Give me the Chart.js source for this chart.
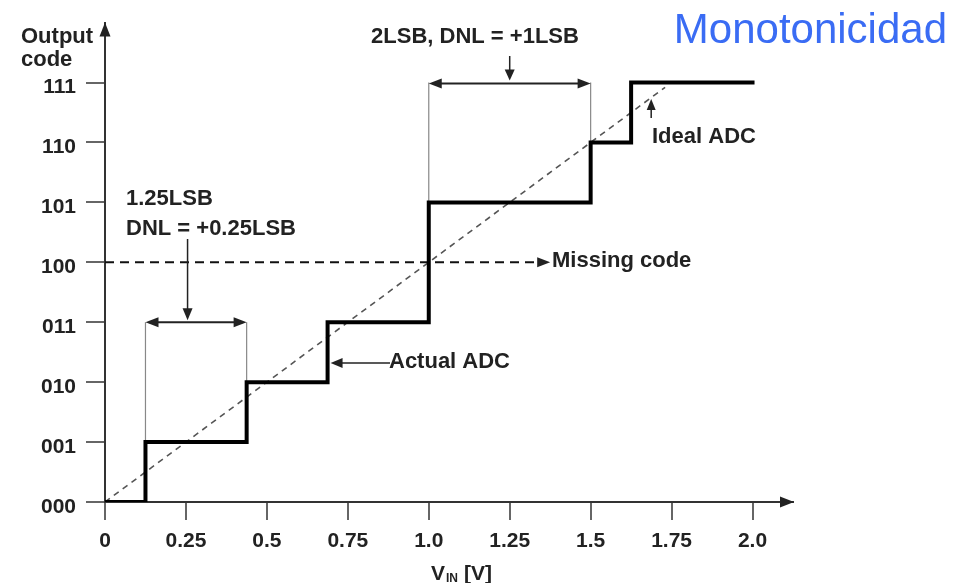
<!DOCTYPE html>
<html>
<head>
<meta charset="utf-8">
<script src="https://cdn.jsdelivr.net/npm/chart.js@4.4.0/dist/chart.umd.min.js"></script>
<style>
  html, body { margin: 0; padding: 0; background: #fff; }
  #wrap { width: 963px; height: 583px; position: relative; }
</style>
</head>
<body>
<div id="wrap"><canvas id="adcChart"></canvas></div>
<script>
// ADC real: tensión de entrada y código de salida
const vinActual = [0, 0.125, 0.4375, 0.6875, 1.0, 1.5, 1.625, 2.0];
const codeActual = [0, 1, 2, 3, 5, 6, 7, 7];
// ADC ideal
const vinIdeal = [0, 1.73];
const codeIdeal = [0, 6.92];
// código perdido (100)
const vinMissing = [0, 1.345];
const codeMissing = [4, 4];
// ticks
const xTickValues = [0, 0.25, 0.5, 0.75, 1.0, 1.25, 1.5, 1.75, 2.0];
const xTickLabels = ['0', '0.25', '0.5', '0.75', '1.0', '1.25', '1.5', '1.75', '2.0'];
const yTickLabels = ['000', '001', '010', '011', '100', '101', '110', '111'];

const FONT = '"Liberation Sans", Arial, sans-serif';
const INK = '#222';

function toPoints(xs, ys) {
  return xs.map((x, i) => ({ x: x, y: ys[i] }));
}

// punta de flecha rellena, ang = 0 apunta a la derecha
function head(ctx, x, y, ang, len, half) {
  ctx.save();
  ctx.translate(x, y);
  ctx.rotate(ang);
  ctx.beginPath();
  ctx.moveTo(0, 0);
  ctx.lineTo(-len, -half);
  ctx.lineTo(-len, half);
  ctx.closePath();
  ctx.fill();
  ctx.restore();
}

function line(ctx, x0, y0, x1, y1) {
  ctx.beginPath();
  ctx.moveTo(x0, y0);
  ctx.lineTo(x1, y1);
  ctx.stroke();
}

const annotations = {
  id: 'annotations',
  beforeDatasetsDraw(chart) {
    const ctx = chart.ctx;
    const px = v => chart.scales.x.getPixelForValue(v);
    const py = v => chart.scales.y.getPixelForValue(v);
    ctx.save();
    // líneas finas de los corchetes
    ctx.strokeStyle = '#888';
    ctx.lineWidth = 1.2;
    line(ctx, px(0.125), py(3), px(0.125), py(1));
    line(ctx, px(0.4375), py(3), px(0.4375), py(2));
    line(ctx, px(1.0), py(7), px(1.0), py(5));
    line(ctx, px(1.5), py(7), px(1.5), py(6));
    ctx.restore();
  },
  afterDraw(chart) {
    const ctx = chart.ctx;
    const px = v => chart.scales.x.getPixelForValue(v);
    const py = v => chart.scales.y.getPixelForValue(v);
    const area = chart.chartArea;
    ctx.save();
    ctx.fillStyle = '#222';
    ctx.strokeStyle = '#222';

    // flechas de los ejes
    head(ctx, area.left, area.top, -Math.PI / 2, 14, 5.5);
    head(ctx, area.right + 1, area.bottom, 0, 14, 5.5);

    // flechas dobles
    ctx.lineWidth = 2;
    let yb = py(3);
    line(ctx, px(0.125) + 4, yb, px(0.4375) - 4, yb);
    head(ctx, px(0.125), yb, Math.PI, 13, 5);
    head(ctx, px(0.4375), yb, 0, 13, 5);
    yb = py(7) + 1;
    line(ctx, px(1.0) + 4, yb, px(1.5) - 4, yb);
    head(ctx, px(1.0), yb, Math.PI, 13, 5);
    head(ctx, px(1.5), yb, 0, 13, 5);

    // flechas verticales hacia los corchetes
    ctx.lineWidth = 1.5;
    let xa = px(0.255);
    line(ctx, xa, 239, xa, py(3) - 8);
    head(ctx, xa, py(3) - 2, Math.PI / 2, 12, 5);
    xa = px(1.25);
    line(ctx, xa, 56, xa, py(7) - 8);
    head(ctx, xa, py(7) - 2, Math.PI / 2, 11, 5);

    // Actual ADC
    const ya = py(2.32);
    line(ctx, px(0.6875) + 10, ya, 390, ya);
    head(ctx, px(0.6875) + 3, ya, Math.PI, 12, 5);

    // Ideal ADC
    const xi = px(1.687);
    line(ctx, xi, 118, xi, 108);
    head(ctx, xi, 99, -Math.PI / 2, 11, 4.5);

    // código perdido
    head(ctx, px(1.375), py(4), 0, 13, 5);

    // textos
    ctx.fillStyle = INK;
    ctx.font = 'bold 22px ' + FONT;
    ctx.textBaseline = 'alphabetic';
    ctx.textAlign = 'left';
    ctx.fillText('Output', 21, 43);
    ctx.fillText('code', 21, 66);
    ctx.fillText('1.25LSB', 126, 205);
    ctx.fillText('DNL = +0.25LSB', 126, 235);
    ctx.fillText('Missing code', 552, 267);
    ctx.fillText('Actual ADC', 389, 368);
    ctx.fillText('Ideal ADC', 652, 143);
    ctx.textAlign = 'center';
    ctx.fillText('2LSB, DNL = +1LSB', 475, 43);

    // V_IN [V]
    ctx.textAlign = 'left';
    ctx.font = 'bold 21px ' + FONT;
    ctx.fillText('V', 431, 580);
    ctx.font = 'bold 12px ' + FONT;
    ctx.fillText('IN', 446, 582);
    ctx.font = 'bold 21px ' + FONT;
    ctx.fillText('[V]', 464, 580);

    // título
    ctx.fillStyle = '#3a6cf4';
    ctx.font = '42px ' + FONT;
    ctx.textAlign = 'right';
    ctx.fillText('Monotonicidad', 947, 43);
    ctx.restore();
  }
};

const ctx = document.getElementById('adcChart').getContext('2d');
new Chart(ctx, {
  type: 'scatter',
  data: {
    datasets: [
      {
        label: 'Actual ADC',
        data: toPoints(vinActual, codeActual),
        showLine: true,
        stepped: 'before',
        borderColor: '#000',
        borderWidth: 4,
        borderCapStyle: 'square',
        pointRadius: 0
      },
      {
        label: 'Ideal ADC',
        data: toPoints(vinIdeal, codeIdeal),
        showLine: true,
        borderColor: '#555',
        borderWidth: 1.6,
        borderDash: [6, 5],
        pointRadius: 0
      },
      {
        label: 'Missing code',
        data: toPoints(vinMissing, codeMissing),
        showLine: true,
        borderColor: '#111',
        borderWidth: 2,
        borderDash: [9, 6],
        pointRadius: 0
      }
    ]
  },
  options: {
    responsive: true,
    maintainAspectRatio: false,
    animation: false,
    layout: { padding: { top: 16, right: 170, left: 0, bottom: 0 } },
    plugins: {
      legend: { display: false },
      tooltip: { enabled: false }
    },
    scales: {
      x: {
        type: 'linear',
        min: 0,
        max: 2.125,
        afterBuildTicks: s => { s.ticks = xTickValues.map(v => ({ value: v })); },
        afterFit: s => { s.height = 81; },
        ticks: {
          autoSkip: false,
          maxRotation: 0,
          padding: 9,
          color: INK,
          font: { family: FONT, size: 21, weight: 'bold' },
          callback: (v, i) => xTickLabels[i]
        },
        grid: { drawOnChartArea: false, drawTicks: true, tickLength: 18, color: '#666', lineWidth: 2 },
        border: { display: true, color: '#333', width: 2 }
      },
      y: {
        type: 'linear',
        min: 0,
        max: 8,
        afterBuildTicks: s => { s.ticks = yTickLabels.map((t, i) => ({ value: i })); },
        afterFit: s => { s.width = 105; },
        ticks: {
          autoSkip: false,
          padding: 10,
          labelOffset: 5,
          color: INK,
          font: { family: FONT, size: 21, weight: 'bold' },
          callback: (v, i) => yTickLabels[i]
        },
        grid: { drawOnChartArea: false, drawTicks: true, tickLength: 19, color: '#666', lineWidth: 2 },
        border: { display: true, color: '#333', width: 2 }
      }
    }
  },
  plugins: [annotations]
});
</script>
</body>
</html>
